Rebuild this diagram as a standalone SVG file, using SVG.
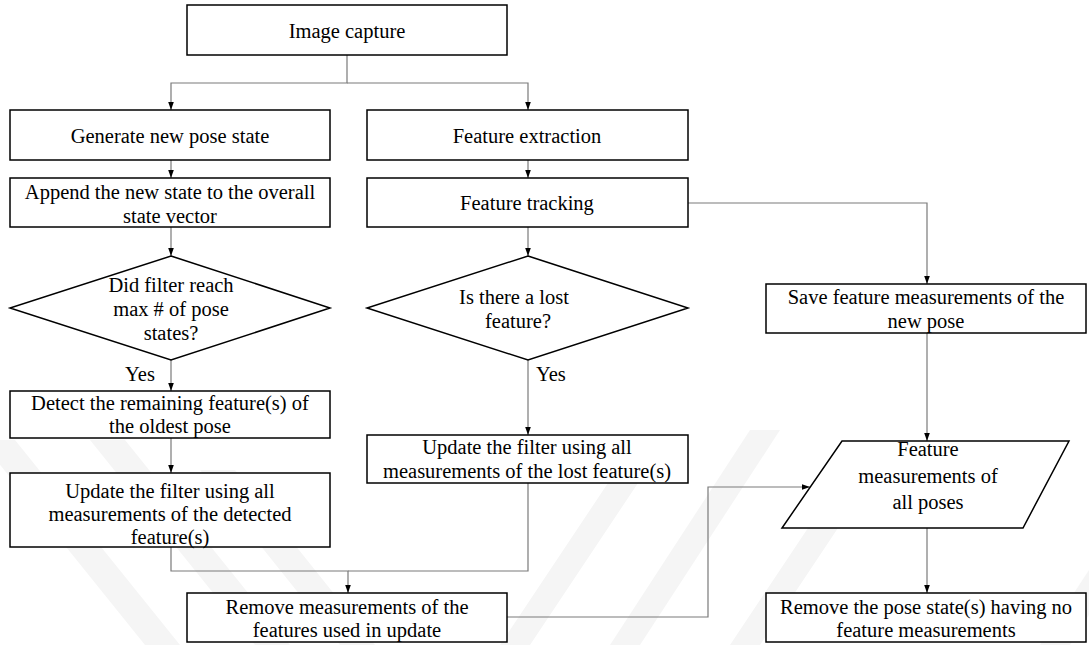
<svg xmlns="http://www.w3.org/2000/svg" width="1089" height="645" viewBox="0 0 1089 645">
<style>
.box{fill:#fff;stroke:#000;stroke-width:1.5}
.wm{fill:#f5f5f5;stroke:none}
.c{fill:none;stroke:#7a7a7a;stroke-width:1.2}
.ca{fill:none;stroke:#7a7a7a;stroke-width:1.2;marker-end:url(#arr)}
text{font-family:"Liberation Serif","Times New Roman",serif;font-size:20.5px;fill:#000;text-anchor:middle}
.l{text-anchor:start}
</style>
<defs>
<marker id="arr" viewBox="0 0 10 10" refX="10" refY="5" markerWidth="8" markerHeight="8" markerUnits="userSpaceOnUse" orient="auto">
<path d="M0,1.5 L10,5 L0,8.5 z" fill="#000"/>
</marker>
</defs>
<rect width="1089" height="645" fill="#fff"/>
<g id="watermark">
<polygon class="wm" points="-20,440 15,440 180,645 145,645"/>
<polygon class="wm" points="90,440 125,440 290,645 255,645"/>
<polygon class="wm" points="200,470 235,470 375,645 340,645"/>
<polygon class="wm" points="500,645 530,645 640,480 610,480"/>
<polygon class="wm" points="610,645 640,645 780,430 750,430"/>
<polygon class="wm" points="730,645 760,645 850,510 820,510"/>
<polygon class="wm" points="1040,645 1070,645 1089,615 1089,570"/>
</g>
<g id="connectors">
<path class="ca" d="M347,55 V83 H171 V110"/>
<path class="ca" d="M347,83 H528 V110"/>
<path class="ca" d="M171,160 V178"/>
<path class="ca" d="M528,160 V178"/>
<path class="ca" d="M171,227 V256"/>
<path class="ca" d="M528,227 V256"/>
<path class="ca" d="M171,360 V391"/>
<path class="ca" d="M171,438 V473"/>
<path class="ca" d="M528,360 V435"/>
<path class="ca" d="M171,547 V571 H348 V593"/>
<path class="c" d="M528,483 V571 H348"/>
<path class="ca" d="M688,203 H927 V284"/>
<path class="ca" d="M927,333 V441"/>
<path class="ca" d="M927,528 V593"/>
<path class="ca" d="M507,617 H708 V487 H810"/>
<text x="140" y="381">Yes</text>
<text class="l" x="536" y="381">Yes</text>
</g>
<g id="n-capture">
<rect class="box" x="187" y="5" width="320" height="50"/>
<text x="347" y="38">Image capture</text>
</g>
<g id="n-generate">
<rect class="box" x="10" y="110" width="320" height="50"/>
<text x="170" y="143">Generate new pose state</text>
</g>
<g id="n-extract">
<rect class="box" x="367" y="110" width="321" height="50"/>
<text x="527" y="143">Feature extraction</text>
</g>
<g id="n-append">
<rect class="box" x="10" y="178" width="320" height="49"/>
<text x="170" y="199">Append the new state to the overall</text>
<text x="170" y="223">state vector</text>
</g>
<g id="n-tracking">
<rect class="box" x="367" y="178" width="321" height="49"/>
<text x="527" y="210">Feature tracking</text>
</g>
<g id="n-decision1">
<polygon class="box" points="171,256 330,308 171,360 10,308"/>
<text x="171" y="292">Did filter reach</text>
<text x="171" y="316">max # of pose</text>
<text x="171" y="340">states?</text>
</g>
<g id="n-decision2">
<polygon class="box" points="528,256 688,308 528,360 367,308"/>
<text x="514" y="304">Is there a lost</text>
<text x="518" y="328">feature?</text>
</g>
<g id="n-save">
<rect class="box" x="766" y="284" width="320" height="49"/>
<text x="926" y="304">Save feature measurements of the</text>
<text x="926" y="328">new pose</text>
</g>
<g id="n-detect">
<rect class="box" x="10" y="391" width="320" height="47"/>
<text x="170" y="410">Detect the remaining feature(s) of</text>
<text x="170" y="433">the oldest pose</text>
</g>
<g id="n-update-left">
<rect class="box" x="10" y="473" width="320" height="74"/>
<text x="170" y="498">Update the filter using all</text>
<text x="170" y="521">measurements of the detected</text>
<text x="170" y="544">feature(s)</text>
</g>
<g id="n-update-mid">
<rect class="box" x="367" y="435" width="321" height="48"/>
<text x="527" y="454">Update the filter using all</text>
<text x="527" y="478">measurements of the lost feature(s)</text>
</g>
<g id="n-allposes">
<polygon class="box" points="842,441 1069,441 1023,528 782,528"/>
<text x="928" y="456">Feature</text>
<text x="928" y="483">measurements of</text>
<text x="928" y="509">all poses</text>
</g>
<g id="n-remove-left">
<rect class="box" x="187" y="593" width="320" height="49"/>
<text x="347" y="614">Remove measurements of the</text>
<text x="347" y="637">features used in update</text>
</g>
<g id="n-remove-right">
<rect class="box" x="766" y="593" width="320" height="49"/>
<text x="926" y="614">Remove the pose state(s) having no</text>
<text x="926" y="637">feature measurements</text>
</g>
</svg>
